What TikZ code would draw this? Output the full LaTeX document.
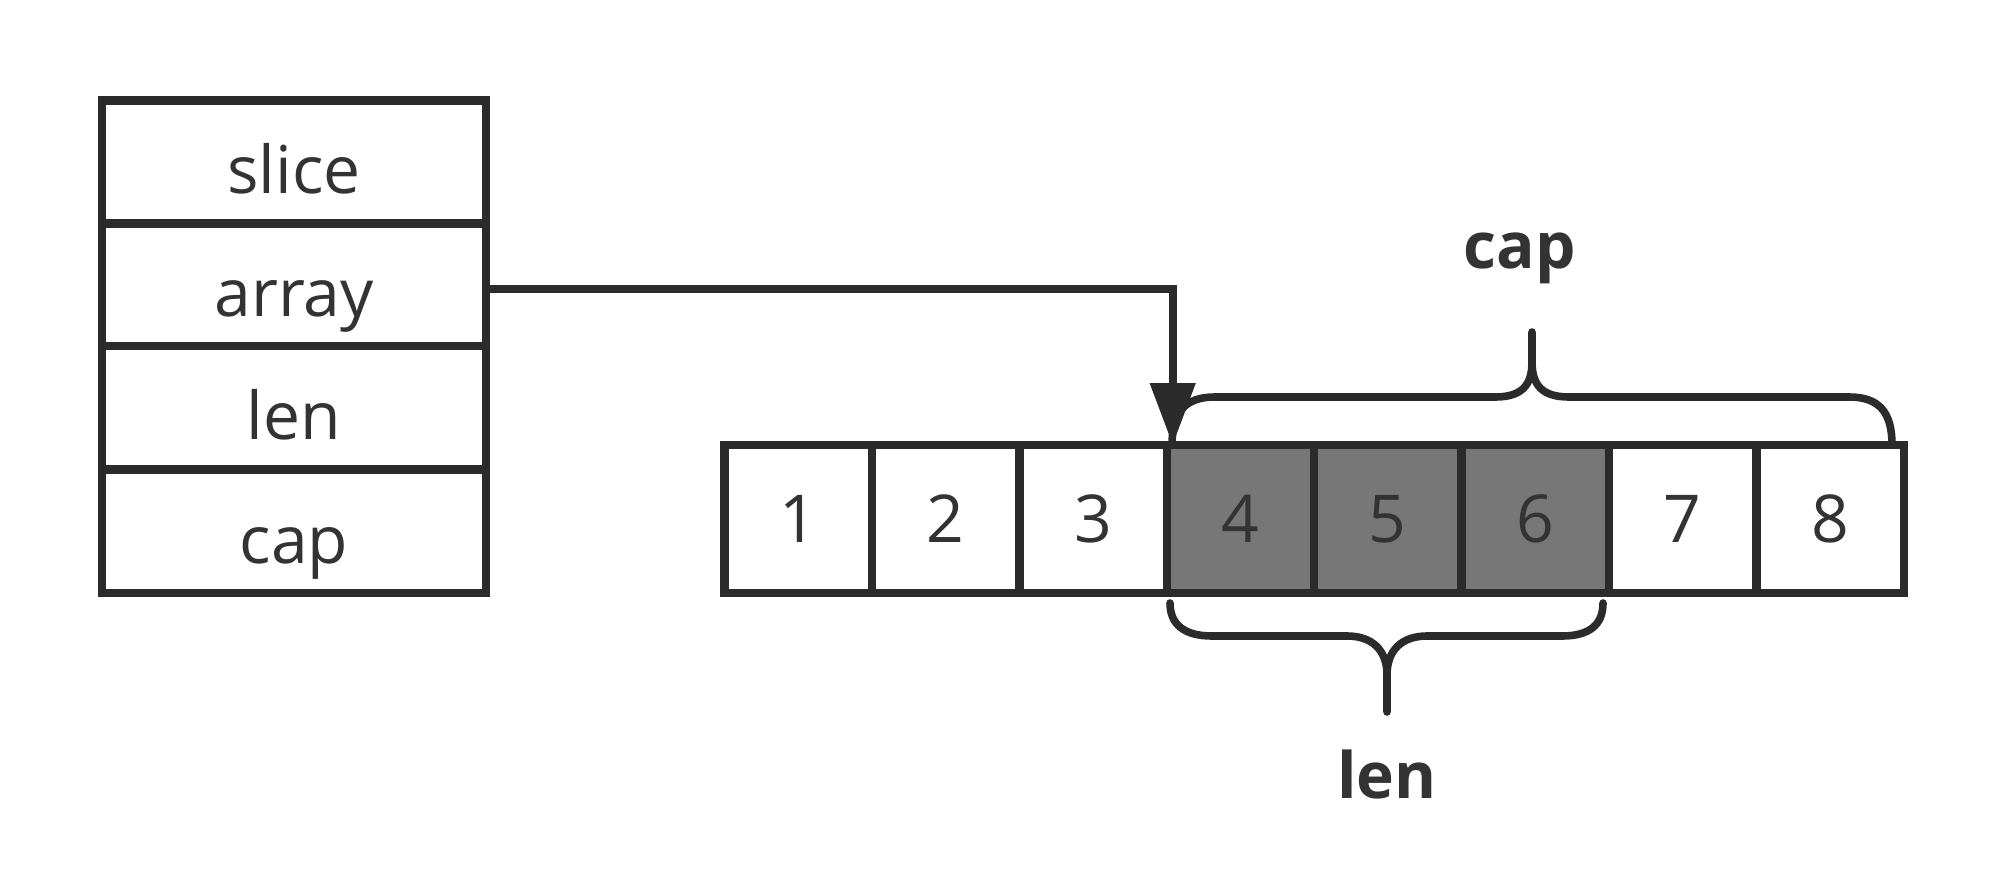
\documentclass[tikz,border=0pt]{standalone}
\usepackage{fontspec}
\setmainfont{Open Sans}
\usetikzlibrary{arrows.meta}
\definecolor{lncol}{HTML}{2B2B2B}
\definecolor{txcol}{HTML}{333333}
\definecolor{gfill}{HTML}{777777}
\begin{document}
\begin{tikzpicture}[x=0.5pt,y=-0.5pt,
  field/.style={draw=lncol, line width=4.2pt, minimum width=192pt, minimum height=61.5pt,
    inner sep=0pt, outer sep=0pt, text=txcol, text height=36pt, text depth=4pt,
    font=\fontsize{33}{40}\selectfont},
  cell/.style={draw=lncol, line width=4.2pt, minimum width=73.7pt, minimum height=74pt,
    inner sep=0pt, outer sep=0pt, text=txcol, font=\fontsize{33}{40}\selectfont},
  hot/.style={cell, fill=gfill},
  lbl/.style={text=txcol, inner sep=0pt, font=\fontsize{32}{38}\selectfont\bfseries},
  conn/.style={draw=lncol, line width=4pt, -{Triangle[length=31pt,width=22pt]}},
  brace/.style={draw=lncol, line width=3.8pt, line cap=round, line join=round}]
\fill[white] (0,0) rectangle (2000,877);
\useasboundingbox (0,0) rectangle (2000,877);

% slice header
\node[field] (fs) at (294,162) {slice};
\node[field] (fa) at (294,284.5) {array};
\node[field] (fl) at (294,407.5) {len};
\node[field] (fc) at (294,531.3) {cap};

% underlying array
\node[cell] (c1) at (798.2,519) {1};
\node[cell] (c2) at (945.6,519) {2};
\node[cell] (c3) at (1093,519) {3};
\node[hot]  (c4) at (1240.4,519) {4};
\node[hot]  (c5) at (1387.8,519) {5};
\node[hot]  (c6) at (1535.2,519) {6};
\node[cell] (c7) at (1682.6,519) {7};
\node[cell] (c8) at (1830,519) {8};

% pointer
\draw[conn] ([yshift=-2pt]fa.east) -| ([xshift=3pt]c4.north west);

% cap brace
\draw[brace] (1172,445) .. controls (1172,412) and (1185,397) .. (1215,397) -- (1495,397)
  .. controls (1522,397) and (1532,385) .. (1532,362) -- (1532,332);
\draw[brace] (1532,362) .. controls (1532,385) and (1542,397) .. (1569,397) -- (1849,397)
  .. controls (1879,397) and (1892,412) .. (1892,445);
\node[lbl] (capl) at (1520,258) {cap};

% len brace
\draw[brace] (1170,603) .. controls (1170,625) and (1185,636) .. (1212,636) -- (1347,636)
  .. controls (1372,636) and (1387,650) .. (1387,675) -- (1387,712);
\draw[brace] (1387,675) .. controls (1387,650) and (1402,636) .. (1427,636) -- (1562,636)
  .. controls (1589,636) and (1603,625) .. (1603,603);
\node[lbl] (lenl) at (1387,774) {len};
\end{tikzpicture}
\end{document}
